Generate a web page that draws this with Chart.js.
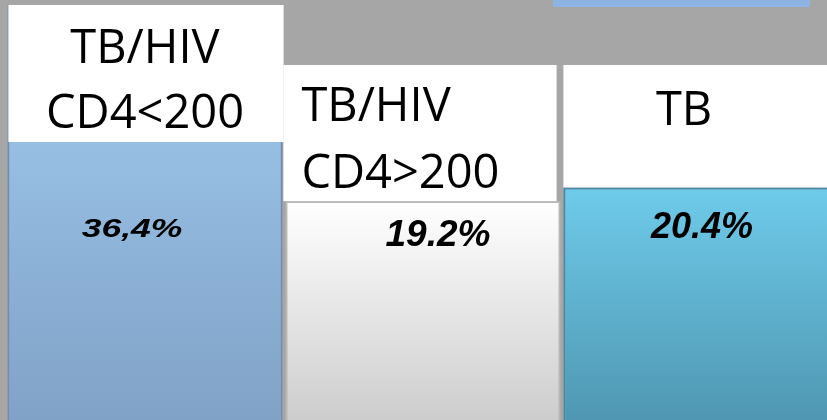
<!DOCTYPE html>
<html>
<head>
<meta charset="utf-8">
<script src="https://cdn.jsdelivr.net/npm/chart.js@4/dist/chart.umd.min.js"></script>
<style>
    html, body { margin: 0; padding: 0; background: #a6a6a6; overflow: hidden; }
    #contenedor { width: 840px; height: 420px; }
</style>
</head>
<body>
<div id="contenedor"><canvas id="chartCD4" width="840" height="420"></canvas></div>
<script>
const categorias = [['TB/HIV', 'CD4<200'], ['TB/HIV', 'CD4>200'], ['TB']];
const porcentajes = [36.4, 19.2, 20.4];
const etiquetasValor = ['36,4%', '19.2%', '20.4%'];

const coloresArriba = ['#a2ccf2', '#ffffff', '#6ecbea'];
const coloresAbajo = ['#80a2c6', '#cdcdcd', '#4f97b2'];
const coloresBorde = ['#6f8db0', '#b8b8b8', '#3f8aa6'];

// cajas blancas de titulo, encima de cada barra
const cajasTitulo = {
    id: 'cajasTitulo',
    beforeDraw(chart) {
        const ctx = chart.ctx;
        // franja azul arriba a la derecha (resto de la diapositiva)
        ctx.fillStyle = '#8db4e2';
        ctx.fillRect(553, 0, 257, 7);
    },
    afterDatasetsDraw(chart) {
        const ctx = chart.ctx;
        const barras = chart.getDatasetMeta(0).data;
        const estilos = [
            { top: 5, bottom: 142, dx: 1, dw: 0, align: 'center', tx: 0, lineas: [63, 128], size: 47 },
            { top: 65, bottom: null, dx: -2, dw: -2, align: 'left', tx: 18, lineas: [121, 188], size: 47 },
            { top: 65, bottom: null, dx: 0, dw: 0, align: 'center', tx: -17, lineas: [125], size: 47 }
        ];
        const valores = [
            { dx: -13, y: 237, size: 25, sx: 1.42 },
            { dx: 15, y: 246, size: 37, sx: 1 },
            { dx: 1, y: 238, size: 36, sx: 1 }
        ];

        barras.forEach((bar, i) => {
            const e = estilos[i];
            const izq = bar.x - bar.width / 2 + e.dx;
            const ancho = bar.width + e.dw;
            const abajo = e.bottom !== null ? e.bottom : bar.y;
            ctx.save();
            ctx.fillStyle = '#ffffff';
            ctx.fillRect(izq, e.top, ancho, abajo - e.top);

            ctx.fillStyle = '#000000';
            ctx.font = `${e.size}px "Open Sans", "Liberation Sans", sans-serif`;
            ctx.textBaseline = 'alphabetic';
            ctx.textAlign = e.align;
            const x = e.align === 'left' ? izq + e.tx : bar.x + e.tx;
            categorias[i].forEach((linea, j) => ctx.fillText(linea, x, e.lineas[j]));
            ctx.restore();

            const v = valores[i];
            ctx.save();
            ctx.translate(bar.x + v.dx, v.y);
            ctx.scale(v.sx, 1);
            ctx.fillStyle = '#000000';
            ctx.font = `italic bold ${v.size}px "Liberation Sans", Arial, sans-serif`;
            ctx.textAlign = 'center';
            ctx.textBaseline = 'alphabetic';
            ctx.fillText(etiquetasValor[i], 0, 0);
            ctx.restore();
        });
    }
};

function gradienteBarra(context) {
    const chart = context.chart;
    const area = chart.chartArea;
    if (!area) return coloresArriba[context.dataIndex];
    const i = context.dataIndex;
    const yTop = chart.scales.y.getPixelForValue(porcentajes[i]);
    const g = chart.ctx.createLinearGradient(0, yTop, 0, area.bottom);
    g.addColorStop(0, coloresArriba[i]);
    g.addColorStop(1, coloresAbajo[i]);
    return g;
}

const ctx = document.getElementById('chartCD4').getContext('2d');
new Chart(ctx, {
    type: 'bar',
    data: {
        labels: categorias.map(c => c.join(' ')),
        datasets: [{
            data: porcentajes,
            backgroundColor: gradienteBarra,
            borderColor: coloresBorde,
            borderWidth: 2,
            categoryPercentage: 1,
            barPercentage: 0.99
        }]
    },
    options: {
        responsive: false,
        animation: false,
        layout: { padding: { left: 6, right: 0, top: 0, bottom: 0 } },
        plugins: { legend: { display: false }, tooltip: { enabled: false } },
        scales: {
            x: { display: false },
            y: { display: false, min: 0, max: 36.84 }
        }
    },
    plugins: [cajasTitulo]
});
</script>
</body>
</html>
